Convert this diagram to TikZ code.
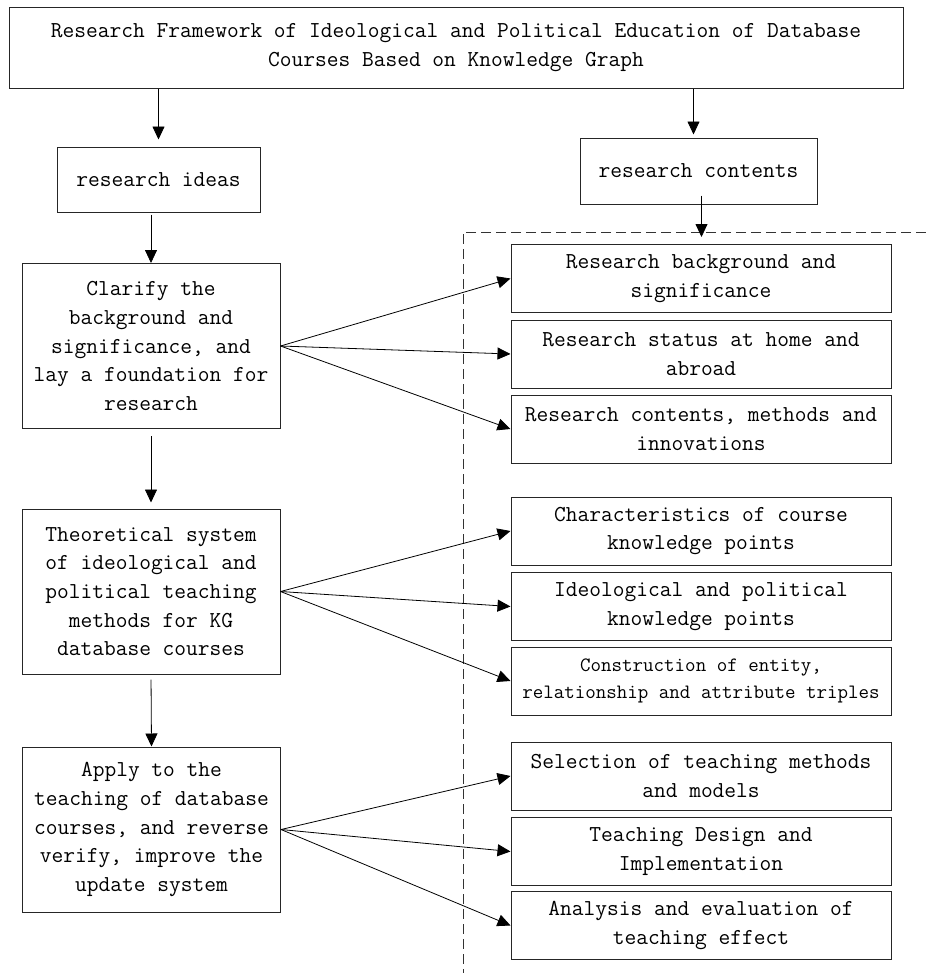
\documentclass[tikz,border=0pt]{standalone}
\usepackage{fontspec}
\usepackage{tikz}
\usetikzlibrary{arrows.meta,positioning,calc}
\tikzstyle{cadre}=[draw=black!85, line width=1pt, align=center, inner sep=0pt, font=\ttfamily\fontsize{22.8}{28.7}\selectfont]
\tikzstyle{etape}=[cadre, minimum width=258pt, minimum height=165pt]
\tikzstyle{contenu}=[cadre, minimum width=380pt, minimum height=68pt]
\tikzstyle{fleche}=[-{Triangle[length=13pt,width=12pt]}, line width=0.8pt]
\tikzstyle{pointille}=[line width=1pt, black!80, dash pattern=on 10pt off 5pt]

\begin{document}
\begin{tikzpicture}[x=1pt,y=-1pt]
\useasboundingbox (0,0) rectangle (926,977);

% titre
\node[cadre, minimum width=894pt, minimum height=81pt] (titre) at (456,47.5)
  {Research Framework of Ideological and Political Education of Database\\Courses Based on Knowledge Graph};

\node[cadre, minimum width=203pt, minimum height=65pt] (idees) at (158.5,179.5) {research ideas};
\node[cadre, minimum width=237pt, minimum height=66pt] (contenus) at (698.5,171) {research contents};

% etapes
\node[etape] (clarifier) at (151,346) {Clarify the\\background and\\significance, and\\lay a foundation for\\research};
\node[etape] (theorie) at (151,591.5) {Theoretical system\\of ideological and\\political teaching\\methods for KG\\database courses};
\node[etape] (appliquer) at (151.5,829.5) {Apply to the\\teaching of database\\courses, and reverse\\verify, improve the\\update system};

% contenus
\node[contenu] (c1) at (701,278.5) {Research background and\\significance};
\node[contenu] (c2) at (701,354) {Research status at home and\\abroad};
\node[contenu] (c3) at (701,429) {Research contents, methods and\\innovations};
\node[contenu] (c4) at (701,531) {Characteristics of course\\knowledge points};
\node[contenu] (c5) at (701,606.5) {Ideological and political\\knowledge points};
\node[contenu, font=\ttfamily\fontsize{20.4}{26.7}\selectfont] (c6) at (701,681) {Construction of entity,\\relationship and attribute triples};
\node[contenu] (c7) at (701,776) {Selection of teaching methods\\and models};
\node[contenu] (c8) at (701,851.5) {Teaching Design and\\Implementation};
\node[contenu] (c9) at (701,925.5) {Analysis and evaluation of\\teaching effect};

% cadre pointille
\coordinate (coin) at (463,232);
\coordinate (coinD) at (926,232);
\coordinate (coinB) at (463,973);
\draw[pointille] (coinD) -- (coin) -- (coinB);

% fleches verticales
\draw[fleche, shorten >=7pt] (idees.north |- titre.south) -- (idees.north);
\draw[fleche, shorten >=3pt] ($(contenus.north |- titre.south)+(-5,0)$) -- ($(contenus.north)+(-5,0)$);
\draw[fleche, shorten <=-9pt, shorten >=-5pt] ($(contenus.south)+(3,0)$) -- ($(contenus.south |- coin)+(3,0)$);
\draw[fleche, shorten <=2pt] (clarifier.north |- idees.south) -- (clarifier.north);
\draw[fleche, shorten <=7pt, shorten >=6pt] (clarifier.south) -- (theorie.north);
\draw[fleche, shorten <=5pt] (theorie.south) -- (appliquer.north);

% fleches vers les contenus
\draw[fleche] (clarifier.east) -- (c1.west);
\draw[fleche] (clarifier.east) -- (c2.west);
\draw[fleche] (clarifier.east) -- (c3.west);
\draw[fleche] (theorie.east) -- (c4.west);
\draw[fleche] (theorie.east) -- (c5.west);
\draw[fleche] (theorie.east) -- (c6.west);
\draw[fleche] (appliquer.east) -- (c7.west);
\draw[fleche] (appliquer.east) -- (c8.west);
\draw[fleche] (appliquer.east) -- (c9.west);

\end{tikzpicture}
\end{document}
